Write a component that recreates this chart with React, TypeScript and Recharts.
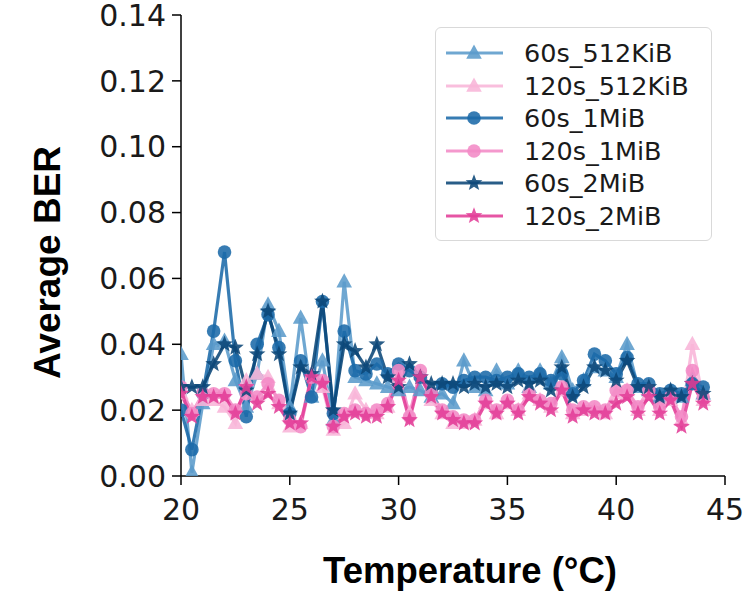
import React from 'react';
import { LineChart, Line, XAxis, YAxis } from 'recharts';

const temps = [
  20, 20.5, 21, 21.5, 22, 22.5, 23, 23.5, 24, 24.5, 25, 25.5, 26, 26.5, 27, 27.5,
  28, 28.5, 29, 29.5, 30, 30.5, 31, 31.5, 32, 32.5, 33, 33.5, 34, 34.5, 35, 35.5,
  36, 36.5, 37, 37.5, 38, 38.5, 39, 39.5, 40, 40.5, 41, 41.5, 42, 42.5, 43, 43.5, 44,
];

const s60_512 = [
  0.037, 0.001, 0.022, 0.040, 0.041, 0.029, 0.021, 0.031, 0.052, 0.044, 0.021, 0.048, 0.024, 0.035, 0.017, 0.059,
  0.030, 0.029, 0.028, 0.027, 0.026, 0.027, 0.026, 0.024, 0.025, 0.022, 0.035, 0.027, 0.026, 0.032, 0.028, 0.032,
  0.027, 0.032, 0.028, 0.036, 0.026, 0.029, 0.033, 0.032, 0.030, 0.040, 0.027, 0.026, 0.024, 0.025, 0.024, 0.029, 0.025,
];
const s120_512 = [
  0.025, 0.020, 0.023, 0.023, 0.021, 0.016, 0.029, 0.031, 0.030, 0.022, 0.015, 0.016, 0.031, 0.027, 0.014, 0.016,
  0.025, 0.020, 0.019, 0.021, 0.030, 0.019, 0.031, 0.023, 0.019, 0.016, 0.016, 0.017, 0.022, 0.019, 0.022, 0.020,
  0.025, 0.023, 0.021, 0.026, 0.019, 0.020, 0.020, 0.019, 0.025, 0.026, 0.020, 0.025, 0.020, 0.023, 0.017, 0.040, 0.023,
];
const s60_1m = [
  0.020, 0.008, 0.025, 0.044, 0.068, 0.035, 0.018, 0.040, 0.049, 0.039, 0.019, 0.035, 0.024, 0.053, 0.019, 0.044,
  0.032, 0.031, 0.034, 0.031, 0.034, 0.032, 0.030, 0.025, 0.028, 0.027, 0.029, 0.030, 0.030, 0.029, 0.030, 0.031,
  0.030, 0.031, 0.029, 0.031, 0.025, 0.029, 0.037, 0.035, 0.031, 0.036, 0.028, 0.028, 0.025, 0.026, 0.025, 0.028, 0.027,
];
const s120_1m = [
  0.027, 0.019, 0.025, 0.025, 0.025, 0.020, 0.025, 0.024, 0.028, 0.023, 0.017, 0.015, 0.030, 0.029, 0.015, 0.019,
  0.020, 0.019, 0.020, 0.022, 0.032, 0.018, 0.032, 0.025, 0.020, 0.018, 0.017, 0.017, 0.023, 0.020, 0.023, 0.020,
  0.025, 0.023, 0.022, 0.027, 0.020, 0.021, 0.021, 0.020, 0.026, 0.026, 0.021, 0.026, 0.021, 0.024, 0.018, 0.032, 0.024,
];
const s60_2m = [
  0.027, 0.027, 0.027, 0.034, 0.040, 0.039, 0.026, 0.037, 0.050, 0.037, 0.019, 0.033, 0.031, 0.053, 0.020, 0.040,
  0.038, 0.033, 0.040, 0.030, 0.027, 0.034, 0.030, 0.028, 0.028, 0.028, 0.027, 0.028, 0.027, 0.028, 0.027, 0.029,
  0.028, 0.029, 0.026, 0.033, 0.024, 0.027, 0.033, 0.032, 0.029, 0.035, 0.027, 0.027, 0.024, 0.026, 0.024, 0.028, 0.025,
];
const s120_2m = [
  0.025, 0.018, 0.024, 0.024, 0.024, 0.019, 0.027, 0.022, 0.025, 0.021, 0.016, 0.016, 0.030, 0.028, 0.015, 0.018,
  0.019, 0.018, 0.018, 0.021, 0.029, 0.017, 0.030, 0.024, 0.019, 0.017, 0.016, 0.016, 0.022, 0.019, 0.022, 0.019,
  0.024, 0.022, 0.020, 0.026, 0.018, 0.020, 0.019, 0.019, 0.022, 0.024, 0.019, 0.024, 0.019, 0.023, 0.015, 0.028, 0.022,
];

const xTicks = [20, 25, 30, 35, 40, 45];
const yTicks = [0, 0.02, 0.04, 0.06, 0.08, 0.1, 0.12, 0.14];

type Shape = 'triangle' | 'circle' | 'star';

const series: { key: string; name: string; color: string; shape: Shape; values: number[] }[] = [
  { key: 'a', name: '60s_512KiB', color: '#5b9bcb', shape: 'triangle', values: s60_512 },
  { key: 'b', name: '120s_512KiB', color: '#f8b5d8', shape: 'triangle', values: s120_512 },
  { key: 'c', name: '60s_1MiB', color: '#1b6aa8', shape: 'circle', values: s60_1m },
  { key: 'd', name: '120s_1MiB', color: '#f38ac6', shape: 'circle', values: s120_1m },
  { key: 'e', name: '60s_2MiB', color: '#0b4778', shape: 'star', values: s60_2m },
  { key: 'f', name: '120s_2MiB', color: '#e23d97', shape: 'star', values: s120_2m },
];

const data = temps.map((t, i) => {
  const row: Record<string, number> = { t };
  series.forEach((s) => (row[s.key] = s.values[i]));
  return row;
});

function starPoints(cx: number, cy: number, ro: number, ri: number) {
  const pts: string[] = [];
  for (let k = 0; k < 10; k++) {
    const r = k % 2 === 0 ? ro : ri;
    const a = -Math.PI / 2 + (k * Math.PI) / 5;
    pts.push(`${cx + r * Math.cos(a)},${cy + r * Math.sin(a)}`);
  }
  return pts.join(' ');
}

function Marker({ shape, cx, cy, color }: { shape: Shape; cx: number; cy: number; color: string }) {
  if (shape === 'circle') return <circle cx={cx} cy={cy} r={6.8} fill={color} />;
  if (shape === 'triangle')
    return <polygon points={`${cx},${cy - 8.5} ${cx - 7.8},${cy + 5.8} ${cx + 7.8},${cy + 5.8}`} fill={color} />;
  return <polygon points={starPoints(cx, cy, 8.8, 3.7)} fill={color} />;
}

const makeDot = (shape: Shape, color: string) => (props: any) => {
  const { cx, cy, index } = props;
  if (cx == null || cy == null) return <g key={index} />;
  return (
    <g key={index} opacity={0.88}>
      <Marker shape={shape} cx={cx} cy={cy} color={color} />
    </g>
  );
};

// legend drawn as an overlay so it doesn't eat into the plot area
const LegendBox = () => (
  <div
    style={{
      position: 'absolute',
      left: 435,
      top: 27,
      width: 277,
      border: '1.5px solid #d9d9d9',
      borderRadius: 6,
      background: 'rgba(255,255,255,0.8)',
      padding: '9px 0 8px 8px',
      boxSizing: 'border-box',
    }}
  >
    {series.map((s) => (
      <div key={s.key} style={{ display: 'flex', alignItems: 'center', height: 32.5 }}>
        <svg width={62} height={30} style={{ flex: 'none' }}>
          <line x1={2} y1={15} x2={59} y2={15} stroke={s.color} strokeWidth={3.2} strokeOpacity={0.88} />
          <g opacity={0.88}>
            <Marker shape={s.shape} cx={30} cy={15} color={s.color} />
          </g>
        </svg>
        <span
          style={{
            marginLeft: 18,
            fontFamily: 'DejaVu Sans',
            fontSize: 25.5,
            color: '#1a1a1a',
            lineHeight: '30px',
            whiteSpace: 'nowrap',
          }}
        >
          {s.name}
        </span>
      </div>
    ))}
  </div>
);

const tickStyle = { fontFamily: 'DejaVu Sans', fontSize: 30, fill: '#1a1a1a' };

export default function App() {
  return (
    <div style={{ position: 'absolute', left: 0, top: 0, width: 747, height: 596, background: '#fff' }}>
      <LineChart width={747} height={596} data={data} margin={{ top: 15, right: 22, bottom: 0, left: 0 }}>
        <XAxis
          dataKey="t"
          type="number"
          domain={[20, 45]}
          ticks={xTicks}
          interval={0}
          allowDataOverflow
          height={120}
          tickSize={9}
          tickMargin={14}
          tick={tickStyle}
          axisLine={{ stroke: '#000', strokeWidth: 1.5 }}
          tickLine={{ stroke: '#000', strokeWidth: 1.5 }}
          label={{
            value: 'Temperature (°C)',
            position: 'insideBottom',
            offset: 13,
            dx: 17,
            style: { fontFamily: 'Liberation Sans', fontWeight: 'bold', fontSize: 36.5, fill: '#000' },
          }}
        />
        <YAxis
          type="number"
          domain={[0, 0.14]}
          ticks={yTicks}
          interval={0}
          allowDataOverflow
          width={181}
          tickSize={9}
          tickMargin={6}
          tick={tickStyle}
          tickFormatter={(v: number) => v.toFixed(2)}
          axisLine={{ stroke: '#000', strokeWidth: 1.5 }}
          tickLine={{ stroke: '#000', strokeWidth: 1.5 }}
          label={{
            value: 'Average BER',
            angle: -90,
            position: 'insideLeft',
            offset: 0,
            dx: 47,
            dy: 17,
            style: { fontFamily: 'Liberation Sans', fontWeight: 'bold', fontSize: 37, fill: '#000', textAnchor: 'middle' },
          }}
        />
        {series.map((s) => (
          <Line
            key={s.key}
            dataKey={s.key}
            name={s.name}
            stroke={s.color}
            strokeWidth={3.2}
            strokeOpacity={0.88}
            dot={makeDot(s.shape, s.color)}
            activeDot={false}
            isAnimationActive={false}
          />
        ))}
      </LineChart>
      <LegendBox />
    </div>
  );
}
